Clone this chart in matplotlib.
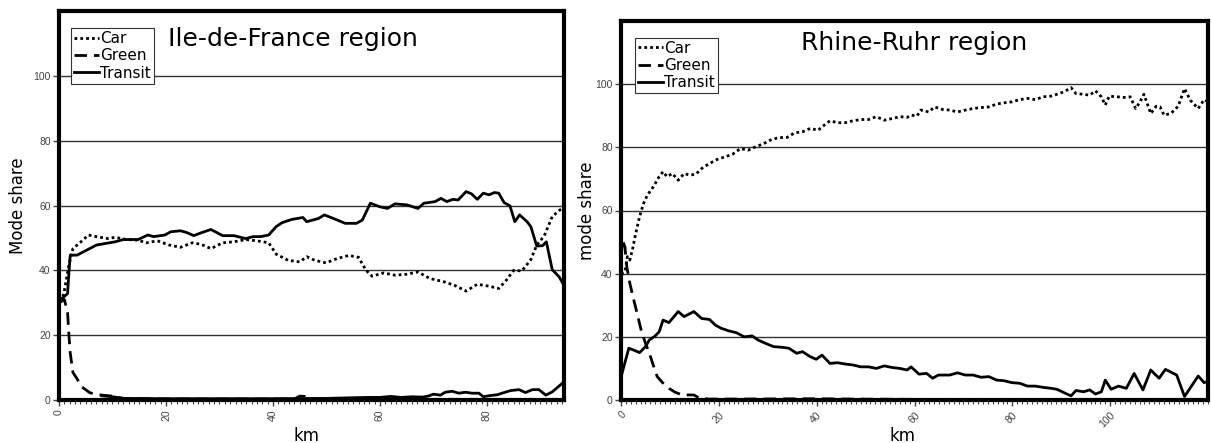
import numpy as np
import matplotlib.pyplot as plt
from matplotlib.ticker import MultipleLocator

# Ile-de-France region (km, mode share %)
idf_car_km = [0, 0.9, 1.9, 2.6, 4.1, 5.5, 7, 9.1, 10.5, 12.7, 14.8, 16.3, 18.4, 20.6, 22.7, 24.9,
              26.6, 28.4, 30.6, 32.7, 34.9, 37, 39.2, 40.6, 42.8, 45, 46.3, 47.8, 49.9, 52.1, 54.2,
              56, 57.4, 58.5, 60.7, 62.8, 65, 67.1, 69.3, 72.1, 73.9, 76.1, 78.2, 80.4, 82.2, 83.6,
              85, 86.5, 88.2, 89.3, 90.7, 92.2, 93.6, 94.7]
idf_car = [28.5, 32.8, 42, 46.7, 48.8, 50.9, 50.4, 49.8, 50.2, 49.5, 49.3, 48.5, 49.1, 47.8, 47.1,
           48.5, 48, 46.7, 48.5, 48.8, 49.5, 49.1, 48.5, 45, 43.1, 42.6, 44.2, 43.1, 42.3, 43.7,
           44.6, 44, 40, 38.2, 39.2, 38.5, 38.8, 39.5, 37.5, 36.4, 35.4, 33.6, 35.7, 35.1, 34.4,
           36.9, 40, 39.8, 43.3, 47.8, 50.6, 56.6, 58.6, 59.6]

idf_green_km = [0, 1.0, 1.6, 1.9, 2.1, 2.6, 3.2, 4.3, 5.8, 8, 10, 12, 20, 30, 40, 44, 45, 46, 47,
                55, 65, 75, 85, 94.4]
idf_green = [30, 31, 27, 19, 14.5, 8.5, 7, 4, 2.2, 1.5, 1.2, 0.5, 0.3, 0.3, 0.3, 0.3, 1.2, 1.1,
             0.3, 0.3, 0.2, 0.2, 0.2, 0.2]

idf_transit_km = [0.1, 1.6, 1.8, 2.1, 3.4, 7, 10.5, 12, 14.8, 16.6, 17.7, 19.8, 20.9, 22.7, 23.8,
                  25.2, 26.6, 28.4, 30.6, 32.7, 34.9, 36.3, 37.7, 39.2, 40.6, 41.7, 43.5, 45.6,
                  46.3, 48.5, 49.6, 51.3, 53.5, 55.6, 56.7, 58.2, 60, 61.4, 62.8, 65, 67.1, 68.2,
                  70.3, 71.4, 72.5, 73.6, 74.6, 76.1, 77.1, 78.2, 79.3, 80.4, 81.4, 82.2, 83.2,
                  84.3, 85.2, 86.1, 87.5, 88.2, 89.3, 90.4, 91.1, 92.2, 93.5, 94.7]
idf_transit = [30.7, 32.8, 38, 44.7, 44.7, 47.8, 48.8, 49.5, 49.5, 50.9, 50.4, 50.9, 51.9, 52.2,
               51.7, 50.7, 51.6, 52.6, 50.7, 50.7, 49.8, 50.4, 50.4, 50.9, 53.5, 54.7, 55.7, 56.3,
               55, 56, 57.1, 56, 54.5, 54.5, 55.5, 60.7, 59.6, 59.1, 60.5, 60.2, 59.1, 60.7, 61.2,
               62.2, 61.2, 61.9, 61.7, 64.3, 63.6, 61.9, 63.8, 63.3, 64, 63.8, 60.9, 59.9, 55,
               57.1, 55, 53.5, 47.5, 47.6, 48.8, 40.2, 38, 34.4]

idf_other_km = [8, 10, 12, 20, 30, 40, 50, 55, 58, 60, 62, 64, 66, 68, 69, 70, 71.3, 72.2, 73.5,
                74.7, 76, 77.2, 78.5, 79.3, 80.7, 81.9, 83.2, 84.4, 86, 87.2, 88.5, 89.7, 91,
                92.2, 94.4]
idf_other = [1.3, 1.0, 0.5, 0.4, 0.4, 0.4, 0.5, 0.7, 0.8, 0.8, 1.1, 0.8, 1.0, 0.9, 1.2, 1.8, 1.5,
             2.4, 2.7, 2.1, 2.4, 2.1, 2.1, 1.0, 1.4, 1.6, 2.3, 2.9, 3.2, 2.3, 3.2, 3.2, 1.5, 2.5, 5.6]

# Rhine-Ruhr region
rr_car_km = [0, 0.8, 1.3, 1.8, 2.4, 3, 3.8, 4.6, 5.4, 6.6, 7.8, 8.6, 9.4, 10.5, 11.7, 12.9, 14.1,
             15.3, 16.5, 18.1, 19.7, 21.3, 22.8, 24.4, 26, 27.6, 29.2, 30.8, 32.4, 33.9, 35.5,
             37.1, 38.7, 40.3, 41.1, 42.7, 44.3, 45.8, 47.4, 49, 50.6, 52.2, 53.8, 55.4, 57,
             58.5, 59.3, 60.5, 61.3, 62.9, 64.1, 65.7, 67.2, 68.8, 70.4, 72, 73.6, 75.2, 76.8,
             78.3, 79.9, 81.5, 83.1, 84.7, 86.3, 87.9, 89.5, 90.6, 92, 93, 94.6, 95.8, 97, 98.2,
             99, 99.8, 101.3, 102.9, 104.1, 105.2, 106.1, 106.9, 108.3, 109.4, 110.2, 111, 112.4,
             113.9, 115.2, 116.4, 118, 119.2, 120]
rr_car = [40, 40.6, 45.4, 44.3, 48, 52.7, 58, 62.2, 64.9, 67.5, 70.7, 72.3, 70.7, 71.7, 69.6, 71.7,
          71.2, 71.5, 73.3, 74.9, 76.2, 77, 77.8, 79.6, 79.1, 80.2, 81.2, 82.5, 83.1, 83.1, 84.6,
          84.9, 86, 85.4, 86.5, 88.4, 87.8, 87.8, 88.4, 88.8, 88.8, 89.7, 88.6, 89.1, 89.7, 89.5,
          90.2, 89.9, 91.8, 91.2, 92.8, 92, 91.8, 91.2, 91.8, 92.3, 92.6, 92.8, 93.7, 94.1, 94.4,
          95.1, 95.5, 95.1, 96, 96.2, 97, 97.6, 98.9, 97, 96.8, 96.5, 97.9, 96, 93.4, 96.2, 96,
          95.8, 96, 92.3, 94.4, 96.8, 90.7, 93, 92.8, 90.2, 90.7, 93, 98.6, 94.9, 92.3, 95.1, 94.4]

rr_green_km = [0, 0.3, 0.8, 1.2, 1.8, 2.4, 3.2, 4.2, 5.0, 5.8, 6.6, 7.4, 8.5, 9.8, 11, 12.5, 14.9,
               16, 18, 25, 40, 47, 60, 80, 100, 120]
rr_green = [45, 50.5, 48.5, 42, 37, 33, 28, 21.6, 18, 14.8, 11, 7.4, 5.5, 3.7, 2.5, 1.6, 1.6, 0.6,
            0.3, 0.3, 0.4, 0.3, 0.2, 0.2, 0.2, 0.2]

rr_transit_km = [0.2, 1.6, 2.6, 3.8, 5, 5.8, 7, 7.8, 8.6, 9.8, 10.5, 11.7, 12.9, 14.9, 16.5, 18.1,
                 19.3, 20.5, 22, 23.6, 25.2, 26.8, 28, 29.6, 31.2, 32.8, 34.3, 35.9, 37.1, 38.7,
                 39.9, 41.1, 42.7, 44.3, 45.8, 47.4, 49, 50.6, 52.2, 53.8, 55.4, 57, 58.5, 59.3,
                 60.9, 62.5, 63.7, 64.9, 67.2, 68.8, 70.4, 72, 73.6, 75.2, 76.8, 78.3, 79.9, 81.5,
                 83.1, 84.7, 86.3, 87.9, 89.1, 90.6, 92, 93, 94.6, 95.8, 97, 98.2, 99, 100.2,
                 101.7, 103.3, 104.9, 106.7, 108.3, 110, 111.3, 113.6, 115.2, 118, 119.2, 120]
rr_transit = [8.4, 16.4, 15.8, 15, 16.9, 19, 20.3, 21.6, 25.3, 24.5, 25.8, 28, 26.4, 28, 25.8, 25.5,
              23.7, 22.7, 21.9, 21.3, 20, 20.3, 19, 17.9, 16.9, 16.7, 16.4, 14.8, 15.3, 13.7, 12.9,
              14.2, 11.6, 11.8, 11.4, 11.1, 10.5, 10.5, 10, 10.8, 10.3, 10, 9.5, 10.5, 8.2, 8.4,
              6.9, 7.9, 7.9, 8.6, 7.9, 7.9, 7.2, 7.4, 6.3, 6.1, 5.5, 5.3, 4.4, 4.4, 4, 3.7, 3.4,
              2.3, 1.3, 3, 2.6, 3.2, 1.9, 2.6, 6.3, 3.4, 4.4, 3.7, 8.4, 3.2, 9.5, 6.9, 9.7, 7.9,
              1.1, 7.6, 5.5, 5.8]

W, H = 1211, 443
fig = plt.figure(figsize=(W / 100, H / 100), dpi=100)

ax1 = fig.add_axes([59 / W, 43 / H, 505 / W, 389 / H])
ax2 = fig.add_axes([621 / W, 43 / H, 587 / W, 379 / H])

car_style = dict(color='black', lw=2, linestyle=(0, (1, 1.1)))
green_style = dict(color='black', lw=2, linestyle=(0, (4.5, 2.5)))
transit_style = dict(color='black', lw=2, linestyle='-')

ax1.plot(idf_other_km, idf_other, **transit_style)
ax1.plot(idf_car_km, idf_car, label='Car', **car_style)
ax1.plot(idf_green_km, idf_green, label='Green', **green_style)
ax1.plot(idf_transit_km, idf_transit, label='Transit', **transit_style)

ax2.plot(rr_car_km, rr_car, label='Car', **car_style)
ax2.plot(rr_green_km, rr_green, label='Green', **green_style)
ax2.plot(rr_transit_km, rr_transit, label='Transit', **transit_style)

tick_font = ['Liberation Sans', 'DejaVu Sans']

for ax, xmax, xticks in [(ax1, 94.4, [0, 20, 40, 60, 80]), (ax2, 120, [0, 20, 40, 60, 80, 100])]:
    ax.set_xlim(0, xmax)
    ax.set_ylim(0, 120)
    ax.set_yticks([0, 20, 40, 60, 80, 100])
    ax.set_xticks(xticks)
    ax.xaxis.set_minor_locator(MultipleLocator(1))
    ax.yaxis.grid(True, color='#333333', lw=1)
    for s in ax.spines.values():
        s.set_linewidth(3)
        s.set_zorder(5)
    ax.tick_params(axis='y', length=4, width=1, color='#444444', labelsize=7.5,
                   labelcolor='#444444', pad=2)
    ax.tick_params(axis='x', which='major', length=4, width=1, color='#444444',
                   labelsize=7.5, labelcolor='#444444', pad=3)
    ax.tick_params(axis='x', which='minor', length=3, width=0.8, color='#444444')
    for lab in ax.get_xticklabels() + ax.get_yticklabels():
        lab.set_family(tick_font)
    leg = ax.legend(loc='upper left', bbox_to_anchor=(0.024, 0.956), borderaxespad=0,
                    fontsize=11, fancybox=False, framealpha=1, edgecolor='#333333',
                    borderpad=0.2, labelspacing=0.15, handlelength=1.6, handletextpad=0.1)
    leg.get_frame().set_linewidth(0.8)
    leg.set_zorder(6)
    ax.set_xlabel('km', fontsize=12)

for lab in ax1.get_xticklabels():
    lab.set_rotation(90)
for lab in ax2.get_xticklabels():
    lab.set_rotation(45)
    lab.set_ha('right')
    lab.set_rotation_mode('anchor')

ax1.set_ylabel('Mode share', fontsize=12)
ax2.set_ylabel('mode share', fontsize=12)
ax1.yaxis.set_label_coords(-0.064, 0.5)
ax2.yaxis.set_label_coords(-0.043, 0.5)
ax1.xaxis.set_label_coords(0.49, -0.07)
ax2.xaxis.set_label_coords(0.48, -0.072)

ax1.text(0.463, 0.928, 'Ile-de-France region', transform=ax1.transAxes, ha='center',
         va='center', fontsize=18)
ax2.text(0.5, 0.942, 'Rhine-Ruhr region', transform=ax2.transAxes, ha='center',
         va='center', fontsize=18)

plt.savefig('out.png', dpi=100)
